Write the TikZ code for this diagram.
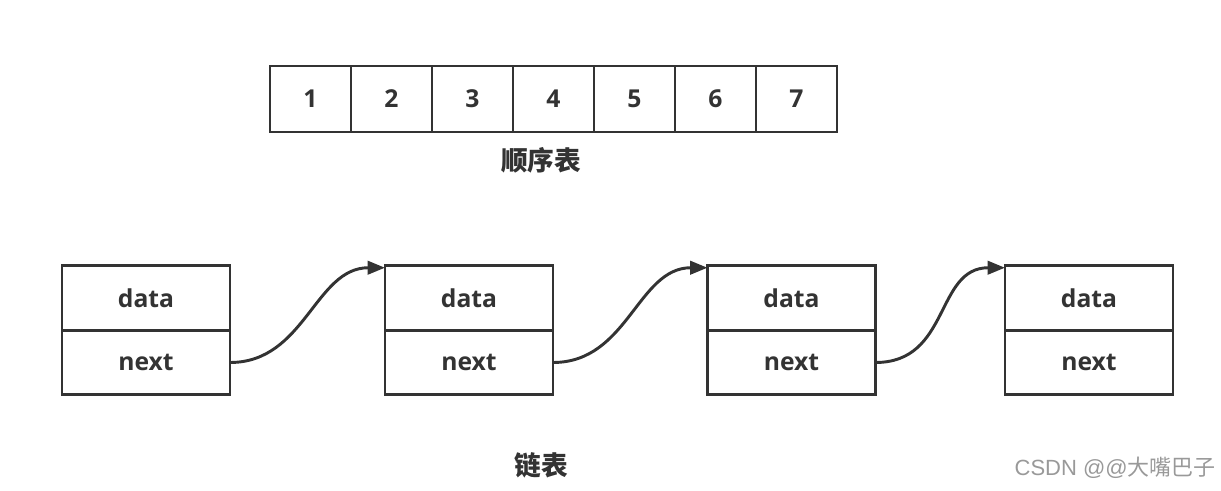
\documentclass[tikz,border=0pt]{standalone}
\usepackage{fontspec}
\setmainfont{Open Sans}
\newfontfamily\cjk{Noto Sans CJK SC}
\newfontfamily\wmfont{Liberation Sans}
\usetikzlibrary{arrows.meta}
\definecolor{ink}{HTML}{333333}
\tikzset{
  cell/.style={draw=ink, line width=2.2pt, minimum width=60.75pt, minimum height=49.5pt, inner sep=0pt, outer sep=0pt, font=\fontsize{18.5}{20}\selectfont\bfseries, text=ink},
  field/.style={draw=ink, line width=2.2pt, minimum width=126pt, minimum height=48.4pt, inner sep=0pt, outer sep=0pt, font=\fontsize{18.5}{20}\selectfont\bfseries, text=ink},
  caption/.style={font=\cjk\fontsize{20}{22}\selectfont\bfseries, text=ink},
  link/.style={draw=ink, line width=2.2pt, -{Triangle[length=13pt,width=10pt]}},
}
\begin{document}
\begin{tikzpicture}[x=0.75pt,y=-0.75pt]
\useasboundingbox (0,0) rectangle (1221,491);
% sequential table
\foreach \i in {1,...,7} {
  \node[cell] (c\i) at ({270+81*(\i-1)+40.5},99) {\i};
}
\node[caption] (seqlabel) at (541,160) {顺序表};
% linked list
\foreach \k/\x in {1/146,2/469,3/791.5,4/1089} {
  \node[field] (d\k) at (\x,298) {data};
  \node[field] (n\k) at (\x,362.5) {next};
}
\draw[link] (n1.east) .. controls +(75,0) and +(-70,0) .. ([yshift=-1.5pt]d2.north west);
\draw[link] (n2.east) .. controls +(75,0) and +(-70,0) .. ([yshift=-1.5pt]d3.north west);
\draw[link] (n3.east) .. controls +(75,0) and +(-70,0) .. ([yshift=-1.5pt]d4.north west);
\node[caption] (listlabel) at (541,465) {链表};
\node[anchor=east, inner sep=0pt, text=black!40] (wm) at (1216,468) {\wmfont\fontsize{16.5}{18}\selectfont CSDN @@\cjk 大嘴巴子};
\end{tikzpicture}
\end{document}
